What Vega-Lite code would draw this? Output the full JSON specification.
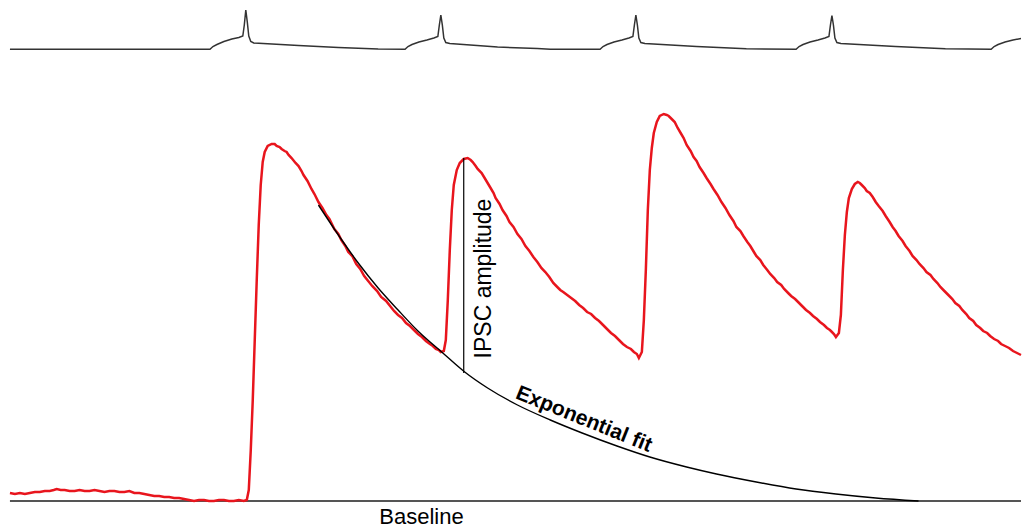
{
  "$schema": "https://vega.github.io/schema/vega-lite/v6.json",
  "width": 1026,
  "height": 529,
  "padding": 0,
  "autosize": {"type": "fit", "contains": "padding"},
  "background": "white",
  "config": {"view": {"stroke": null}, "font": "Liberation Sans"},
  "datasets": {
    "ipsc": [
      {"t":10,"y":493},{"t":15,"y":494},{"t":20,"y":493},{"t":25,"y":494},{"t":30,"y":493},{"t":35,"y":492},{"t":40,"y":492},{"t":45,"y":491},{"t":50,"y":491},{"t":54,"y":490},{"t":57,"y":489},{"t":61,"y":490},{"t":65,"y":490},{"t":70,"y":491},{"t":75,"y":491},{"t":80,"y":490},{"t":85,"y":491},{"t":90,"y":491},{"t":95,"y":490},{"t":100,"y":491},{"t":105,"y":492},{"t":110,"y":491},{"t":115,"y":491},{"t":120,"y":492},{"t":125,"y":492},{"t":130,"y":491},{"t":135,"y":493},{"t":140,"y":493},{"t":145,"y":494},{"t":150,"y":495},{"t":155,"y":496},{"t":160,"y":496},{"t":165,"y":497},{"t":170,"y":497},{"t":175,"y":498},{"t":180,"y":498},{"t":185,"y":499},{"t":190,"y":500},{"t":195,"y":501},{"t":200,"y":500},{"t":205,"y":500},{"t":210,"y":501},{"t":215,"y":501},{"t":220,"y":500},{"t":225,"y":500},{"t":230,"y":501},{"t":235,"y":501},{"t":240,"y":500},{"t":245,"y":501},{"t":248,"y":500},
      {"t":250,"y":490},{"t":252,"y":450},{"t":254,"y":400},{"t":256,"y":340},{"t":258,"y":280},{"t":260,"y":225},{"t":262,"y":185},{"t":264,"y":162},{"t":266,"y":152},{"t":269,"y":146},{"t":273,"y":144},{"t":276,"y":144},{"t":278,"y":146},{"t":281,"y":147},{"t":283,"y":149},{"t":286,"y":151},{"t":288,"y":152},{"t":290,"y":155},{"t":293,"y":158},{"t":297,"y":163},{"t":300,"y":166},{"t":303,"y":171},{"t":305,"y":175},{"t":309,"y":181},{"t":313,"y":189},{"t":316,"y":194},{"t":320,"y":202},{"t":324,"y":208},{"t":328,"y":215},{"t":331,"y":219},{"t":336,"y":229},{"t":340,"y":234},{"t":343,"y":240},{"t":347,"y":246},{"t":350,"y":252},{"t":354,"y":256},{"t":358,"y":264},{"t":362,"y":269},{"t":366,"y":276},{"t":370,"y":281},{"t":374,"y":286},{"t":379,"y":291},{"t":383,"y":297},{"t":388,"y":301},{"t":392,"y":306},{"t":396,"y":311},{"t":400,"y":315},{"t":404,"y":318},{"t":408,"y":323},{"t":412,"y":326},{"t":416,"y":330},{"t":420,"y":334},{"t":424,"y":337},{"t":428,"y":341},{"t":432,"y":344},{"t":435,"y":346},{"t":438,"y":349},{"t":441,"y":350},{"t":443,"y":352},{"t":446,"y":351},
      {"t":448,"y":340},{"t":450,"y":300},{"t":452,"y":250},{"t":454,"y":210},{"t":456,"y":185},{"t":459,"y":170},{"t":462,"y":163},{"t":466,"y":159},{"t":470,"y":158},{"t":473,"y":160},{"t":475,"y":162},{"t":478,"y":166},{"t":480,"y":169},{"t":484,"y":173},{"t":487,"y":178},{"t":490,"y":183},{"t":493,"y":188},{"t":496,"y":193},{"t":498,"y":198},{"t":502,"y":204},{"t":505,"y":210},{"t":509,"y":216},{"t":512,"y":222},{"t":516,"y":227},{"t":520,"y":234},{"t":524,"y":239},{"t":528,"y":246},{"t":532,"y":251},{"t":536,"y":257},{"t":540,"y":262},{"t":544,"y":268},{"t":548,"y":272},{"t":552,"y":277},{"t":556,"y":283},{"t":560,"y":287},{"t":563,"y":290},{"t":566,"y":292},{"t":570,"y":295},{"t":574,"y":298},{"t":578,"y":301},{"t":582,"y":305},{"t":586,"y":308},{"t":590,"y":312},{"t":594,"y":314},{"t":598,"y":318},{"t":602,"y":321},{"t":606,"y":325},{"t":610,"y":329},{"t":614,"y":333},{"t":618,"y":336},{"t":622,"y":340},{"t":626,"y":344},{"t":630,"y":347},{"t":634,"y":349},{"t":637,"y":352},{"t":640,"y":354},{"t":642,"y":358},{"t":645,"y":352},
      {"t":647,"y":320},{"t":649,"y":270},{"t":651,"y":210},{"t":653,"y":170},{"t":655,"y":148},{"t":657,"y":133},{"t":660,"y":122},{"t":663,"y":116},{"t":667,"y":114},{"t":670,"y":115},{"t":672,"y":116},{"t":675,"y":119},{"t":678,"y":122},{"t":681,"y":128},{"t":684,"y":133},{"t":687,"y":138},{"t":690,"y":145},{"t":694,"y":151},{"t":697,"y":157},{"t":700,"y":161},{"t":703,"y":167},{"t":707,"y":173},{"t":710,"y":178},{"t":714,"y":184},{"t":717,"y":189},{"t":721,"y":195},{"t":725,"y":202},{"t":729,"y":208},{"t":733,"y":215},{"t":737,"y":221},{"t":740,"y":227},{"t":744,"y":231},{"t":747,"y":236},{"t":751,"y":242},{"t":754,"y":246},{"t":757,"y":251},{"t":760,"y":256},{"t":764,"y":260},{"t":767,"y":265},{"t":771,"y":270},{"t":774,"y":274},{"t":778,"y":278},{"t":781,"y":282},{"t":785,"y":285},{"t":788,"y":289},{"t":792,"y":293},{"t":795,"y":296},{"t":799,"y":299},{"t":802,"y":302},{"t":806,"y":306},{"t":810,"y":310},{"t":814,"y":313},{"t":817,"y":316},{"t":821,"y":319},{"t":824,"y":322},{"t":828,"y":325},{"t":831,"y":328},{"t":834,"y":330},{"t":836,"y":332},{"t":838,"y":334},{"t":840,"y":337},{"t":843,"y":333},
      {"t":845,"y":315},{"t":847,"y":270},{"t":849,"y":235},{"t":851,"y":212},{"t":853,"y":198},{"t":856,"y":189},{"t":859,"y":184},{"t":862,"y":182},{"t":864,"y":183},{"t":866,"y":185},{"t":869,"y":188},{"t":871,"y":191},{"t":874,"y":193},{"t":877,"y":197},{"t":880,"y":202},{"t":883,"y":206},{"t":887,"y":211},{"t":890,"y":216},{"t":894,"y":222},{"t":897,"y":227},{"t":900,"y":231},{"t":903,"y":236},{"t":907,"y":241},{"t":910,"y":246},{"t":914,"y":251},{"t":917,"y":256},{"t":921,"y":260},{"t":924,"y":264},{"t":928,"y":268},{"t":931,"y":272},{"t":935,"y":275},{"t":938,"y":279},{"t":942,"y":283},{"t":945,"y":287},{"t":949,"y":291},{"t":953,"y":295},{"t":957,"y":299},{"t":960,"y":303},{"t":964,"y":306},{"t":967,"y":310},{"t":971,"y":314},{"t":974,"y":318},{"t":978,"y":321},{"t":981,"y":325},{"t":985,"y":328},{"t":988,"y":331},{"t":992,"y":333},{"t":995,"y":336},{"t":999,"y":339},{"t":1003,"y":341},{"t":1006,"y":344},{"t":1010,"y":346},{"t":1014,"y":348},{"t":1018,"y":351},{"t":1022,"y":353},{"t":1026,"y":355}
    ],
    "stim": [
      {"t":10,"y":49.3},{"t":211,"y":49.3},{"t":214,"y":46.5},{"t":218,"y":44.5},{"t":225,"y":41.5},{"t":233,"y":39},{"t":240,"y":37.5},{"t":244,"y":36},{"t":245.5,"y":25},{"t":247,"y":10},{"t":248.5,"y":22},{"t":250,"y":36},{"t":252,"y":41.5},{"t":255,"y":43},{"t":260,"y":43.3},{"t":300,"y":45.5},{"t":340,"y":47.5},{"t":380,"y":49},{"t":407,"y":49.3},
      {"t":410,"y":46.5},{"t":414,"y":44.5},{"t":421,"y":42},{"t":429,"y":40},{"t":436,"y":38},{"t":440,"y":36.5},{"t":441.5,"y":25},{"t":443,"y":15},{"t":444.5,"y":25},{"t":446,"y":38},{"t":448,"y":42.5},{"t":452,"y":43.5},{"t":500,"y":47},{"t":540,"y":48.5},{"t":553,"y":49.3},{"t":603,"y":49.3},
      {"t":606,"y":46.5},{"t":610,"y":44.5},{"t":617,"y":42},{"t":625,"y":40},{"t":632,"y":38},{"t":636,"y":36.5},{"t":637.5,"y":25},{"t":639,"y":15},{"t":640.5,"y":25},{"t":642,"y":38},{"t":644,"y":42.5},{"t":648,"y":43.5},{"t":700,"y":46.5},{"t":750,"y":48.7},{"t":800,"y":49.3},
      {"t":803,"y":46.5},{"t":807,"y":44.5},{"t":814,"y":42},{"t":822,"y":40},{"t":829,"y":38},{"t":833,"y":36.5},{"t":834.5,"y":25},{"t":836,"y":15.5},{"t":837.5,"y":25},{"t":839,"y":38},{"t":841,"y":42.5},{"t":845,"y":43.5},{"t":900,"y":46.5},{"t":950,"y":48.7},{"t":996,"y":49.3},
      {"t":999,"y":46.5},{"t":1003,"y":44.5},{"t":1010,"y":42},{"t":1018,"y":40},{"t":1026,"y":38.5}
    ],
    "fit": [
      {"t":320,"y":205},{"t":340,"y":235},{"t":360,"y":263},{"t":380,"y":288},{"t":400,"y":310},{"t":420,"y":331},{"t":445,"y":353},{"t":467,"y":372},{"t":490,"y":388},{"t":520,"y":405},{"t":553,"y":420},{"t":585,"y":433},{"t":620,"y":446},{"t":653,"y":457},{"t":690,"y":467},{"t":720,"y":474},{"t":760,"y":482},{"t":800,"y":489},{"t":840,"y":494},{"t":880,"y":498},{"t":923,"y":501}
    ]
  },
  "layer": [
    {
      "data": {"values": [{"t1": 10, "t2": 1026, "y": 501}]},
      "mark": {"type": "rule", "color": "#555555", "strokeWidth": 2},
      "encoding": {
        "x": {"field": "t1", "type": "quantitative", "scale": {"domain": [0, 1026], "nice": false, "zero": false}, "axis": null},
        "x2": {"field": "t2"},
        "y": {"field": "y", "type": "quantitative", "scale": {"domain": [0, 529], "reverse": true, "nice": false, "zero": false}, "axis": null}
      }
    },
    {
      "data": {"name": "stim"},
      "mark": {"type": "line", "color": "#333333", "strokeWidth": 1.5},
      "encoding": {
        "x": {"field": "t", "type": "quantitative", "axis": null},
        "y": {"field": "y", "type": "quantitative", "axis": null}
      }
    },
    {
      "data": {"name": "ipsc"},
      "mark": {"type": "line", "color": "#e8151d", "strokeWidth": 2.5},
      "encoding": {
        "x": {"field": "t", "type": "quantitative", "axis": null},
        "y": {"field": "y", "type": "quantitative", "axis": null}
      }
    },
    {
      "data": {"name": "fit"},
      "mark": {"type": "line", "color": "#000000", "strokeWidth": 1.4, "interpolate": "monotone"},
      "encoding": {
        "x": {"field": "t", "type": "quantitative", "axis": null},
        "y": {"field": "y", "type": "quantitative", "axis": null}
      }
    },
    {
      "data": {"values": [{"t": 466, "y1": 158, "y2": 373}]},
      "mark": {"type": "rule", "color": "#000000", "strokeWidth": 1.2},
      "encoding": {
        "x": {"field": "t", "type": "quantitative", "axis": null},
        "y": {"field": "y1", "type": "quantitative", "axis": null},
        "y2": {"field": "y2"}
      }
    },
    {
      "data": {"values": [{"t": 423.5, "y": 524, "label": "Baseline"}]},
      "mark": {"type": "text", "fontSize": 22, "align": "center", "baseline": "alphabetic", "color": "#000000"},
      "encoding": {
        "x": {"field": "t", "type": "quantitative", "axis": null},
        "y": {"field": "y", "type": "quantitative", "axis": null},
        "text": {"field": "label"}
      }
    },
    {
      "data": {"values": [{"t": 493, "y": 278.5, "label": "IPSC amplitude"}]},
      "mark": {"type": "text", "fontSize": 23, "angle": 270, "align": "center", "baseline": "alphabetic", "color": "#000000"},
      "encoding": {
        "x": {"field": "t", "type": "quantitative", "axis": null},
        "y": {"field": "y", "type": "quantitative", "axis": null},
        "text": {"field": "label"}
      }
    },
    {
      "data": {"values": [{"t": 584.5, "y": 425, "label": "Exponential fit"}]},
      "mark": {"type": "text", "fontSize": 21, "fontWeight": "bold", "angle": 22, "align": "center", "baseline": "alphabetic", "color": "#000000"},
      "encoding": {
        "x": {"field": "t", "type": "quantitative", "axis": null},
        "y": {"field": "y", "type": "quantitative", "axis": null},
        "text": {"field": "label"}
      }
    }
  ]
}
